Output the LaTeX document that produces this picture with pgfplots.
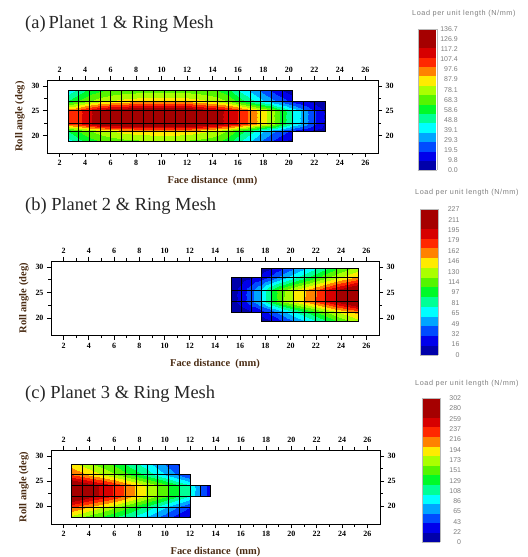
\documentclass[border=0pt]{standalone}
\usepackage{pgfplots}
\pgfplotsset{compat=1.18}
\usepackage{pgfplotstable}
\usepackage{fontspec}
\setmainfont{Liberation Serif}
\setsansfont{Liberation Sans}

\definecolor{labelbrown}{HTML}{4A2C14}
\definecolor{titlegray}{HTML}{262626}
\definecolor{cbtext}{HTML}{7E7E7E}

% Node grids of the contact meshes.
% x = face distance (mm), y = roll angle (deg), v = load per unit length (N/mm)

% Planet 1 & ring: main block and narrow tail on the right
\pgfplotstableread[row sep=\\]{
x y v \\
2.65 18.80 40 \\ 3.49 18.80 50 \\ 4.33 18.80 58 \\ 5.17 18.80 63 \\ 6.01 18.80 66 \\ 6.85 18.80 68 \\ 7.69 18.80 69 \\ 8.53 18.80 70 \\ 9.37 18.80 71 \\ 10.21 18.80 71 \\ 11.05 18.80 71 \\ 11.89 18.80 70 \\ 12.73 18.80 69 \\ 13.57 18.80 67 \\ 14.41 18.80 64 \\ 15.25 18.80 58 \\ 16.09 18.80 46 \\ 16.93 18.80 36 \\ 17.77 18.80 27 \\ 18.61 18.80 18 \\ 19.45 18.80 10 \\ 20.29 18.80 4 \\
2.65 20.85 55 \\ 3.49 20.85 65 \\ 4.33 20.85 72 \\ 5.17 20.85 78 \\ 6.01 20.85 82 \\ 6.85 20.85 85 \\ 7.69 20.85 87 \\ 8.53 20.85 88 \\ 9.37 20.85 89 \\ 10.21 20.85 89 \\ 11.05 20.85 89 \\ 11.89 20.85 88 \\ 12.73 20.85 86 \\ 13.57 20.85 83 \\ 14.41 20.85 78 \\ 15.25 20.85 72 \\ 16.09 20.85 60 \\ 16.93 20.85 50 \\ 17.77 20.85 40 \\ 18.61 20.85 31 \\ 19.45 20.85 23 \\ 20.29 20.85 15 \\
2.65 22.40 100 \\ 3.49 22.40 107 \\ 4.33 22.40 116 \\ 5.17 22.40 126 \\ 6.01 22.40 130 \\ 6.85 22.40 132 \\ 7.69 22.40 133 \\ 8.53 22.40 134 \\ 9.37 22.40 135 \\ 10.21 22.40 136 \\ 11.05 22.40 136.7 \\ 11.89 22.40 135 \\ 12.73 22.40 131 \\ 13.57 22.40 125 \\ 14.41 22.40 121 \\ 15.25 22.40 116 \\ 16.09 22.40 108 \\ 16.93 22.40 98 \\ 17.77 22.40 88 \\ 18.61 22.40 78 \\ 19.45 22.40 60 \\ 20.29 22.40 45 \\
2.65 25.00 100 \\ 3.49 25.00 107 \\ 4.33 25.00 116 \\ 5.17 25.00 126 \\ 6.01 25.00 130 \\ 6.85 25.00 132 \\ 7.69 25.00 133 \\ 8.53 25.00 134 \\ 9.37 25.00 135 \\ 10.21 25.00 136 \\ 11.05 25.00 136.7 \\ 11.89 25.00 135 \\ 12.73 25.00 131 \\ 13.57 25.00 125 \\ 14.41 25.00 121 \\ 15.25 25.00 116 \\ 16.09 25.00 108 \\ 16.93 25.00 98 \\ 17.77 25.00 88 \\ 18.61 25.00 78 \\ 19.45 25.00 60 \\ 20.29 25.00 45 \\
2.65 27.00 55 \\ 3.49 27.00 65 \\ 4.33 27.00 72 \\ 5.17 27.00 78 \\ 6.01 27.00 82 \\ 6.85 27.00 85 \\ 7.69 27.00 87 \\ 8.53 27.00 88 \\ 9.37 27.00 89 \\ 10.21 27.00 89 \\ 11.05 27.00 89 \\ 11.89 27.00 88 \\ 12.73 27.00 86 \\ 13.57 27.00 83 \\ 14.41 27.00 78 \\ 15.25 27.00 72 \\ 16.09 27.00 60 \\ 16.93 27.00 50 \\ 17.77 27.00 40 \\ 18.61 27.00 31 \\ 19.45 27.00 23 \\ 20.29 27.00 15 \\
2.65 29.05 40 \\ 3.49 29.05 50 \\ 4.33 29.05 58 \\ 5.17 29.05 63 \\ 6.01 29.05 66 \\ 6.85 29.05 68 \\ 7.69 29.05 69 \\ 8.53 29.05 70 \\ 9.37 29.05 71 \\ 10.21 29.05 71 \\ 11.05 29.05 71 \\ 11.89 29.05 70 \\ 12.73 29.05 69 \\ 13.57 29.05 67 \\ 14.41 29.05 64 \\ 15.25 29.05 58 \\ 16.09 29.05 46 \\ 16.93 29.05 36 \\ 17.77 29.05 27 \\ 18.61 29.05 18 \\ 19.45 29.05 10 \\ 20.29 29.05 4 \\
}\meshAmain
\pgfplotstableread[row sep=\\]{
x y v \\
20.29 20.85 15 \\ 21.14 20.85 10 \\ 21.99 20.85 6 \\ 22.84 20.85 3 \\
20.29 22.40 45 \\ 21.14 22.40 33 \\ 21.99 22.40 20 \\ 22.84 22.40 8 \\
20.29 25.00 45 \\ 21.14 25.00 33 \\ 21.99 25.00 20 \\ 22.84 25.00 8 \\
20.29 27.00 15 \\ 21.14 27.00 10 \\ 21.99 27.00 6 \\ 22.84 27.00 3 \\
}\meshAtail

% Planet 2 & ring: main block and narrow head on the left
\pgfplotstableread[row sep=\\]{
x y v \\
17.64 19.40 6 \\ 18.50 19.40 16 \\ 19.35 19.40 30 \\ 20.21 19.40 45 \\ 21.06 19.40 60 \\ 21.92 19.40 75 \\ 22.77 19.40 90 \\ 23.63 19.40 105 \\ 24.48 19.40 118 \\ 25.34 19.40 130 \\
17.64 21.20 22 \\ 18.50 21.20 38 \\ 19.35 21.20 55 \\ 20.21 21.20 72 \\ 21.06 21.20 88 \\ 21.92 21.20 104 \\ 22.77 21.20 120 \\ 23.63 21.20 134 \\ 24.48 21.20 146 \\ 25.34 21.20 158 \\
17.64 23.20 62 \\ 18.50 23.20 95 \\ 19.35 23.20 118 \\ 20.21 23.20 135 \\ 21.06 23.20 150 \\ 21.92 23.20 165 \\ 22.77 23.20 182 \\ 23.63 23.20 198 \\ 24.48 23.20 212 \\ 25.34 23.20 227 \\
17.64 25.40 62 \\ 18.50 25.40 95 \\ 19.35 25.40 118 \\ 20.21 25.40 135 \\ 21.06 25.40 150 \\ 21.92 25.40 165 \\ 22.77 25.40 182 \\ 23.63 25.40 198 \\ 24.48 25.40 212 \\ 25.34 25.40 227 \\
17.64 27.90 22 \\ 18.50 27.90 38 \\ 19.35 27.90 55 \\ 20.21 27.90 72 \\ 21.06 27.90 88 \\ 21.92 27.90 104 \\ 22.77 27.90 120 \\ 23.63 27.90 134 \\ 24.48 27.90 146 \\ 25.34 27.90 158 \\
17.64 29.70 6 \\ 18.50 29.70 16 \\ 19.35 29.70 30 \\ 20.21 29.70 45 \\ 21.06 29.70 60 \\ 21.92 29.70 75 \\ 22.77 29.70 90 \\ 23.63 29.70 105 \\ 24.48 29.70 118 \\ 25.34 29.70 130 \\
}\meshBmain
\pgfplotstableread[row sep=\\]{
x y v \\
15.27 21.20 3 \\ 16.06 21.20 8 \\ 16.85 21.20 14 \\ 17.64 21.20 22 \\
15.27 23.20 8 \\ 16.06 23.20 20 \\ 16.85 23.20 40 \\ 17.64 23.20 62 \\
15.27 25.40 8 \\ 16.06 25.40 20 \\ 16.85 25.40 40 \\ 17.64 25.40 62 \\
15.27 27.90 3 \\ 16.06 27.90 8 \\ 16.85 27.90 14 \\ 17.64 27.90 22 \\
}\meshBhead

% Planet 3 & ring: main block, one extra column, short tail
\pgfplotstableread[row sep=\\]{
x y v \\
2.60 17.90 175 \\ 3.455 17.90 160 \\ 4.31 17.90 146 \\ 5.165 17.90 134 \\ 6.02 17.90 122 \\ 6.875 17.90 108 \\ 7.73 17.90 94 \\ 8.585 17.90 78 \\ 9.44 17.90 60 \\ 10.295 17.90 44 \\ 11.15 17.90 28 \\
2.60 19.90 225 \\ 3.455 19.90 210 \\ 4.31 19.90 195 \\ 5.165 19.90 180 \\ 6.02 19.90 165 \\ 6.875 19.90 150 \\ 7.73 19.90 132 \\ 8.585 19.90 115 \\ 9.44 19.90 95 \\ 10.295 19.90 75 \\ 11.15 19.90 58 \\
2.60 22.00 302 \\ 3.455 22.00 285 \\ 4.31 22.00 268 \\ 5.165 22.00 255 \\ 6.02 22.00 238 \\ 6.875 22.00 218 \\ 7.73 22.00 198 \\ 8.585 22.00 178 \\ 9.44 22.00 160 \\ 10.295 22.00 140 \\ 11.15 22.00 120 \\
2.60 24.20 302 \\ 3.455 24.20 285 \\ 4.31 24.20 268 \\ 5.165 24.20 255 \\ 6.02 24.20 238 \\ 6.875 24.20 218 \\ 7.73 24.20 198 \\ 8.585 24.20 178 \\ 9.44 24.20 160 \\ 10.295 24.20 140 \\ 11.15 24.20 120 \\
2.60 26.30 225 \\ 3.455 26.30 210 \\ 4.31 26.30 195 \\ 5.165 26.30 180 \\ 6.02 26.30 165 \\ 6.875 26.30 150 \\ 7.73 26.30 132 \\ 8.585 26.30 115 \\ 9.44 26.30 95 \\ 10.295 26.30 75 \\ 11.15 26.30 58 \\
2.60 28.35 190 \\ 3.455 28.35 175 \\ 4.31 28.35 160 \\ 5.165 28.35 148 \\ 6.02 28.35 135 \\ 6.875 28.35 120 \\ 7.73 28.35 105 \\ 8.585 28.35 88 \\ 9.44 28.35 70 \\ 10.295 28.35 52 \\ 11.15 28.35 35 \\
}\meshCmain
\pgfplotstableread[row sep=\\]{
x y v \\
11.15 17.90 28 \\ 12.00 17.90 15 \\
11.15 19.90 58 \\ 12.00 19.90 40 \\
11.15 22.00 120 \\ 12.00 22.00 100 \\
11.15 24.20 120 \\ 12.00 24.20 100 \\
11.15 26.30 58 \\ 12.00 26.30 40 \\
}\meshCcol
\pgfplotstableread[row sep=\\]{
x y v \\
12.00 22.00 100 \\ 12.80 22.00 60 \\ 13.60 22.00 30 \\
12.00 24.20 100 \\ 12.80 24.20 60 \\ 13.60 24.20 30 \\
}\meshCtail

% 14-band rainbow map, used piecewise constant (last entry repeats the top band)
\pgfplotsset{
  colormap={loadmap}{
    rgb255=(0,0,170) rgb255=(0,0,235) rgb255=(0,75,255) rgb255=(0,165,255)
    rgb255=(0,255,255) rgb255=(0,255,150) rgb255=(0,250,40) rgb255=(85,245,0)
    rgb255=(170,255,0) rgb255=(255,235,0) rgb255=(255,130,0) rgb255=(255,40,0)
    rgb255=(215,0,0) rgb255=(165,0,0) rgb255=(165,0,0)
  },
  % colour bars are placed at absolute positions, without the default gap
  colorbar shift/.style={},
  meshframe/.style={
    scale only axis,
    xmin=1, xmax=27, ymin=16.5, ymax=31.2,
    xtick={2,4,...,26}, minor x tick num=1,
    ytick={20,25,30}, minor y tick num=1,
    tick align=outside,
    major tick length=4bp, minor tick length=2.5bp,
    every tick/.append style={line width=0.7bp, black},
    axis line style={line width=0.9bp},
    tick label style={font=\fontsize{8}{9}\selectfont\bfseries},
    /pgf/number format/assume math mode=true,
    % the y label is already turned by 90 degrees, so its yshift moves it to the left
    xlabel style={font=\fontsize{10.5}{12}\selectfont\bfseries, text=labelbrown,
      at={(axis description cs:0.5,0)}, anchor=center, yshift=-28bp},
    ylabel style={font=\fontsize{10.5}{12}\selectfont\bfseries, text=labelbrown,
      at={(axis description cs:0,0.5)}, anchor=center, yshift=27bp},
    colormap name=loadmap,
    colormap access=piecewise constant,
  },
  meshsurf/.style={surf, shader=faceted interp, faceted color=black,
    line width=0.6bp, point meta=explicit},
  cbstyle/.style={
    anchor=north west, scale only axis,
    major tick length=0pt,
    axis line style={draw=gray!55, line width=0.3bp},
    yticklabel style={font=\fontsize{7}{8}\sffamily, text=cbtext,
      anchor=east, xshift=24.6bp},
  },
}

\newcommand{\cbtitle}{\fontsize{7.3}{8}\sffamily\addfontfeatures{LetterSpace=8}\color{cbtext}}
\newcommand{\paneltitle}{\fontsize{18.5}{21}\selectfont\color{titlegray}}

\begin{document}
\begin{tikzpicture}
\useasboundingbox (0,0) rectangle (528bp,557bp);
\coordinate (cbA) at (417.7bp,527.7bp);
\coordinate (cbB) at (420bp,347.7bp);
\coordinate (cbC) at (421.7bp,158.7bp);

% ---------------- (a) ----------------
\node[anchor=base west, inner sep=0pt] at (25bp,528.7bp) {\paneltitle (a)\,Planet 1 \& Ring Mesh};
\node[anchor=west, inner sep=0pt] at (412bp,543.7bp) {\cbtitle Load per unit length (N/mm)};
\begin{axis}[meshframe, at={(47bp,404bp)}, width=331bp, height=73bp,
  point meta min=0, point meta max=136.7,
  xlabel={Face distance\ \ (mm)}, ylabel={Roll angle (deg)},
  colorbar, colorbar style={cbstyle, at={(cbA)}, width=19bp, height=140.7bp,
    ytick={0,9.8,19.5,29.3,39.1,48.8,58.6,68.3,78.1,87.9,97.6,107.4,117.2,126.9,136.7},
    yticklabels={0.0,9.8,19.5,29.3,39.1,48.8,58.6,68.3,78.1,87.9,97.6,107.4,117.2,126.9,136.7}}]
\addplot[meshsurf, mesh/cols=22] table[x=x, y=y, meta=v] {\meshAmain};
\addplot[meshsurf, mesh/cols=4] table[x=x, y=y, meta=v] {\meshAtail};
\end{axis}
\begin{axis}[meshframe, at={(47bp,404bp)}, width=331bp, height=73bp,
  xticklabel pos=upper, yticklabel pos=right]
\end{axis}

% ---------------- (b) ----------------
\node[anchor=base west, inner sep=0pt] at (25bp,346.3bp) {\paneltitle (b) Planet 2 \& Ring Mesh};
\node[anchor=west, inner sep=0pt] at (415bp,364.3bp) {\cbtitle Load per unit length (N/mm)};
\begin{axis}[meshframe, at={(51bp,221.3bp)}, width=328bp, height=74.7bp,
  point meta min=0, point meta max=227,
  xlabel={Face distance\ \ (mm)}, ylabel={Roll angle (deg)},
  colorbar, colorbar style={cbstyle, at={(cbB)}, width=18.3bp, height=145.7bp,
    ytick={0,16.2,32.4,48.6,64.9,81.1,97.3,113.5,129.7,145.9,162.1,178.4,194.6,210.8,227},
    yticklabels={0,16,32,49,65,81,97,114,130,146,162,179,195,211,227}}]
\addplot[meshsurf, mesh/cols=10] table[x=x, y=y, meta=v] {\meshBmain};
\addplot[meshsurf, mesh/cols=4] table[x=x, y=y, meta=v] {\meshBhead};
\end{axis}
\begin{axis}[meshframe, at={(51bp,221.3bp)}, width=328bp, height=74.7bp,
  xticklabel pos=upper, yticklabel pos=right]
\end{axis}

% ---------------- (c) ----------------
\node[anchor=base west, inner sep=0pt] at (25bp,158.7bp) {\paneltitle (c) Planet 3 \& Ring Mesh};
\node[anchor=west, inner sep=0pt] at (415bp,173.7bp) {\cbtitle Load per unit length (N/mm)};
\begin{axis}[meshframe, at={(51bp,33bp)}, width=329bp, height=74bp,
  point meta min=0, point meta max=302,
  xlabel={Face distance\ \ (mm)}, ylabel={Roll angle (deg)},
  colorbar, colorbar style={cbstyle, at={(cbC)}, width=18.3bp, height=144bp,
    ytick={0,21.6,43.1,64.7,86.3,107.9,129.4,151,172.6,194.1,215.7,237.3,258.9,280.4,302},
    yticklabels={0,22,43,65,86,108,129,151,173,194,216,237,259,280,302}}]
\addplot[meshsurf, mesh/cols=11] table[x=x, y=y, meta=v] {\meshCmain};
\addplot[meshsurf, mesh/cols=2] table[x=x, y=y, meta=v] {\meshCcol};
\addplot[meshsurf, mesh/cols=3] table[x=x, y=y, meta=v] {\meshCtail};
\end{axis}
\begin{axis}[meshframe, at={(51bp,33bp)}, width=329bp, height=74bp,
  xticklabel pos=upper, yticklabel pos=right]
\end{axis}
\end{tikzpicture}
\end{document}
